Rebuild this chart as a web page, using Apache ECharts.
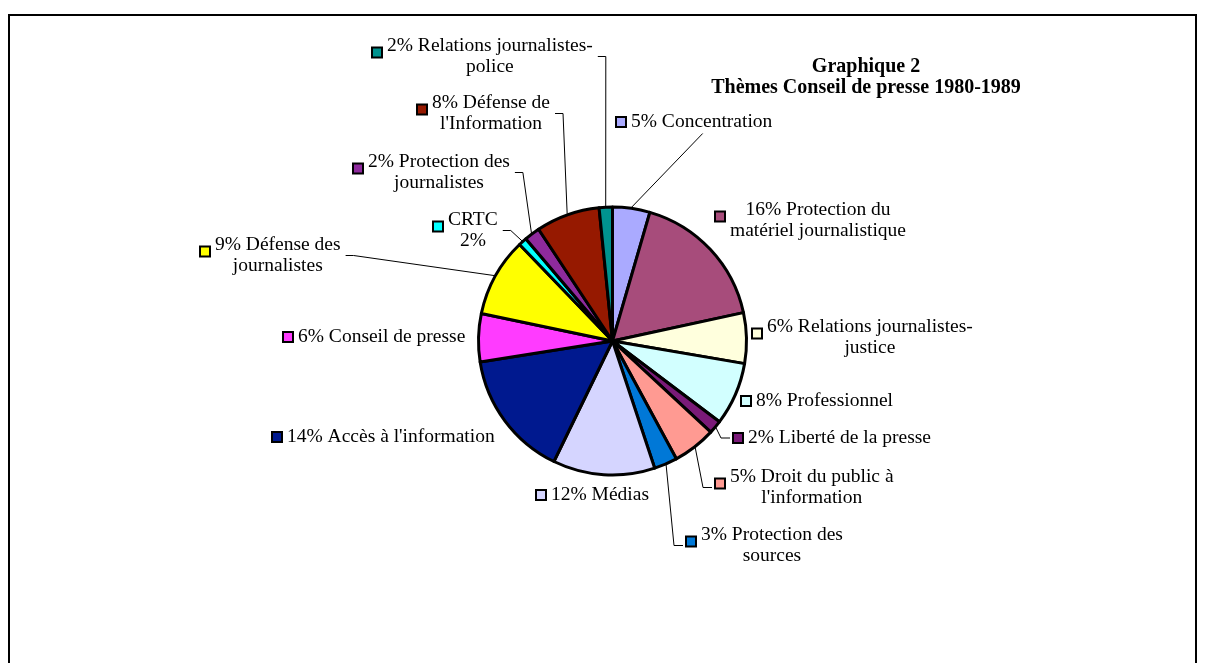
<!DOCTYPE html>
<html>
<head>
<meta charset="utf-8">
<title>Graphique 2</title>
<script src="https://cdn.jsdelivr.net/npm/echarts@6.0.0/dist/echarts.min.js"></script>
<style>
html, body { margin: 0; padding: 0; background: #fff; }
#chart { width: 1205px; height: 663px; }
</style>
</head>
<body>
<div id="chart"></div>
<script>
var categories = ["Concentration", "Protection du matériel journalistique", "Relations journalistes-justice",
    "Professionnel", "Liberté de la presse", "Droit du public à l'information", "Protection des sources",
    "Médias", "Accès à l'information", "Conseil de presse", "Défense des journalistes", "CRTC",
    "Protection des journalistes", "Défense de l'Information", "Relations journalistes-police"];
var values = [4.5, 17.1, 6.1, 7.6, 1.6, 5.2, 2.8, 12.3, 15.3, 5.8, 9.5, 1.0, 1.9, 7.7, 1.6];
// label texts as printed on the chart
var labelTexts = ["5% Concentration", "16% Protection du\nmatériel journalistique", "6% Relations journalistes-\njustice",
    "8% Professionnel", "2% Liberté de la presse", "5% Droit du public à\nl'information", "3% Protection des\nsources",
    "12% Médias", "14% Accès à l'information", "6% Conseil de presse", "9% Défense des\njournalistes", "CRTC\n2%",
    "2% Protection des\njournalistes", "8% Défense de\nl'Information", "2% Relations journalistes-\npolice"];
var colors = ["#AAAAFF", "#A74C7B", "#FFFFDD", "#D2FFFF", "#7A1A78", "#FF9A92", "#0078D7", "#D5D5FF",
    "#00198F", "#FF3BFF", "#FFFF00", "#00FFFF", "#8E2A9D", "#961900", "#00938F"];

// label placement: left of the key square, middle of the first line, side the leader leaves from
var labelX = [617, 716, 753, 742, 734, 716, 687, 537, 273, 284, 201, 434, 354, 418, 373];
var labelY = [122, 210, 327, 401, 438, 477, 535, 495, 437, 337, 245, 220, 162, 103, 46];
var lineSide = ["T", "", "", "", "R", "R", "R", "", "", "", "L", "L", "L", "L", "L"];

var CX = 612.5, CY = 341, R = 134;
var FONT = "'Liberation Serif', 'Times New Roman', serif";
var FS = 19.5;
var LH = 21;
var total = 0;
for (var i = 0; i < values.length; i++) total += values[i];

function edge_point(i) {
    var before = 0;
    for (var k = 0; k < i; k++) before += values[k];
    var a = (before + values[i] / 2) / total * 2 * Math.PI;
    return [CX + (R + 1) * Math.sin(a), CY - (R + 1) * Math.cos(a)];
}

function label_text(i) {
    var lines = labelTexts[i].split("\n");
    var s = "{s" + i + "|}{g|}{t|" + lines[0] + "}";
    for (var k = 1; k < lines.length; k++) s += "\n{p|}{t|" + lines[k] + "}";
    return s;
}

var rich = {
    g: {width: 6},
    p: {width: 14},
    t: {align: "center", fontFamily: FONT, fontSize: FS, color: "#000", lineHeight: LH}
};
var data = [];
for (i = 0; i < categories.length; i++) {
    rich["s" + i] = {
        width: 8, height: 8, backgroundColor: colors[i], borderColor: "#000", borderWidth: 2,
        verticalAlign: labelTexts[i].indexOf("\n") >= 0 ? "bottom" : "middle"
    };
    data.push({
        name: categories[i],
        value: values[i],
        itemStyle: {color: colors[i]},
        labelLine: {show: lineSide[i] != ""}
    });
}

var chart = echarts.init(document.getElementById("chart"));
chart.setOption({
    animation: false,
    graphic: [
        {type: "rect", silent: true, shape: {x: 9, y: 15, width: 1187, height: 700},
            style: {fill: "none", stroke: "#000", lineWidth: 2}},
        {type: "text", silent: true, x: 866, y: 56,
            style: {text: "Graphique 2\nThèmes Conseil de presse 1980-1989", font: "bold 20px " + FONT,
                align: "center", verticalAlign: "top", lineHeight: LH, fill: "#000"}}
    ],
    series: [{
        type: "pie",
        center: [CX, CY],
        radius: R,
        startAngle: 90,
        clockwise: true,
        avoidLabelOverlap: false,
        silent: true,
        itemStyle: {borderColor: "#000", borderWidth: 3},
        label: {
            show: true, position: "outside", fontFamily: FONT, fontSize: FS, color: "#000", lineHeight: LH,
            formatter: function (p) { return label_text(p.dataIndex); },
            rich: rich
        },
        labelLine: {show: true, lineStyle: {color: "#000", width: 1}},
        labelLayout: function (params) {
            var i = params.dataIndex;
            var x = labelX[i], y = labelY[i] - LH / 2;
            var w = params.labelRect.width, h = params.labelRect.height;
            var res = {x: x, y: y, align: "left", verticalAlign: "top"};
            var e = edge_point(i);
            var my = y + h / 2;
            if (lineSide[i] == "L") {
                var rx = x + w + 3;
                res.labelLinePoints = [e, [rx + 8, my], [rx, my]];
            } else if (lineSide[i] == "R") {
                var lx = x - 4;
                res.labelLinePoints = [e, [lx - 9, my], [lx, my]];
            } else if (lineSide[i] == "T") {
                var tc = x + 14 + (w - 14) / 2;
                res.labelLinePoints = [e, [tc, y + h + 1], [tc, y + h + 1]];
            }
            return res;
        },
        data: data
    }]
});
</script>
</body>
</html>
